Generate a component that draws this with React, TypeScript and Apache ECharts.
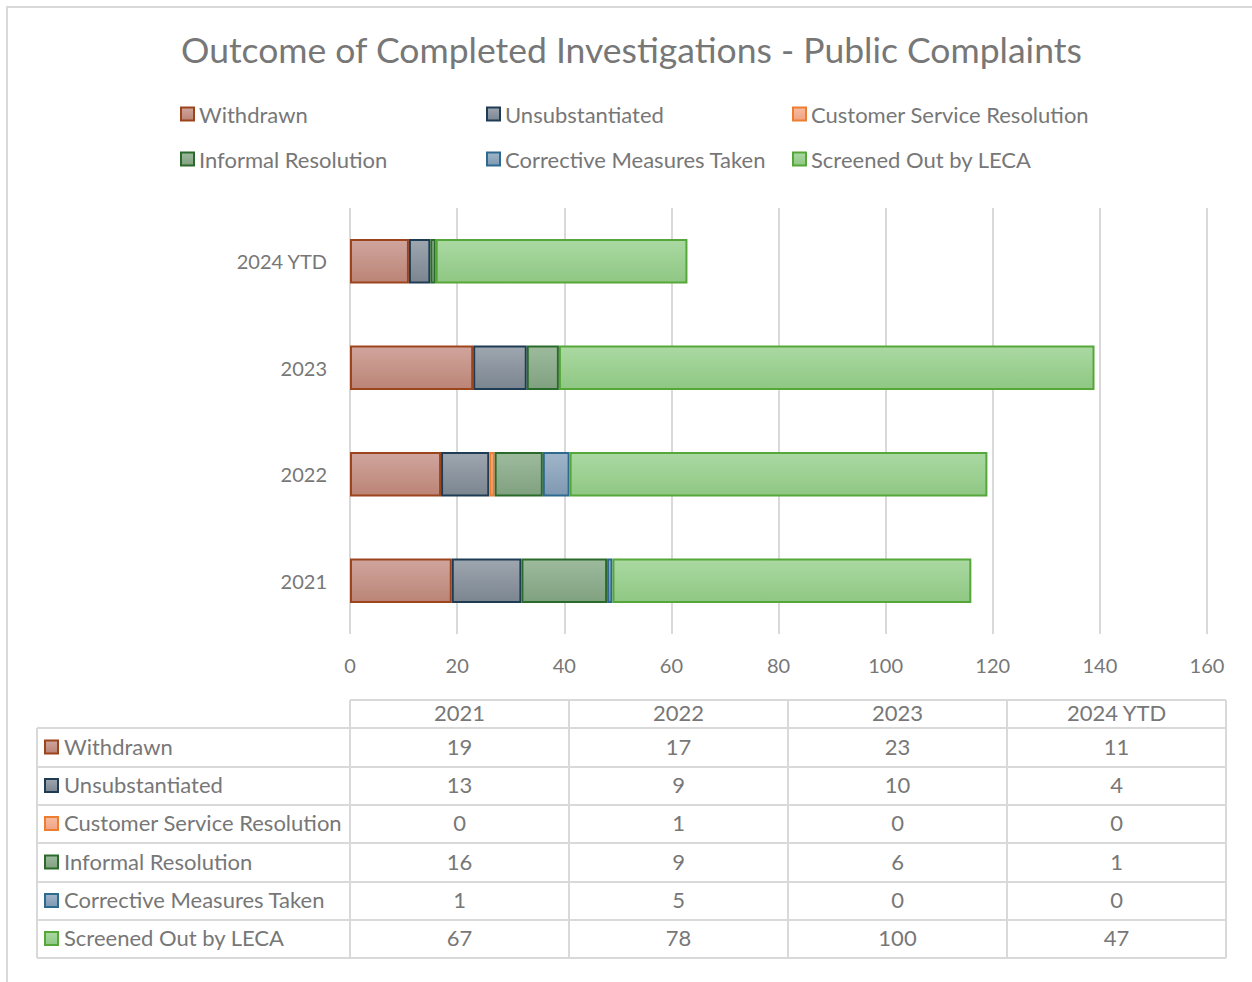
import React, { useEffect, useRef } from "react";
import * as echarts from "echarts";

const categories = ["2021", "2022", "2023", "2024 YTD"];
const seriesNames = [
  "Withdrawn",
  "Unsubstantiated",
  "Customer Service Resolution",
  "Informal Resolution",
  "Corrective Measures Taken",
  "Screened Out by LECA",
];
const withdrawn = [19, 17, 23, 11];
const unsubstantiated = [13, 9, 10, 4];
const customerService = [0, 1, 0, 0];
const informal = [16, 9, 6, 1];
const corrective = [1, 5, 0, 0];
const screened = [67, 78, 100, 47];
const seriesValues = [withdrawn, unsubstantiated, customerService, informal, corrective, screened];
const xTicks = [0, 20, 40, 60, 80, 100, 120, 140, 160];

const FONT = "Lato, 'Open Sans', sans-serif";
const TXT = "#777777";
const GRID = "#d9d9d9";

const palette = [
  { top: "#d0a59d", bottom: "#bb8476", border: "#9c451c" },
  { top: "#9ea6af", bottom: "#7b8590", border: "#1e3d55" },
  { top: "#f7bca1", bottom: "#f2a283", border: "#ed7d31" },
  { top: "#9dba9d", bottom: "#80a180", border: "#2a6a2a" },
  { top: "#a0b5c8", bottom: "#7e99b2", border: "#2c6a90" },
  { top: "#aad9a2", bottom: "#8fc783", border: "#56a73a" },
];

const grad = (p: { top: string; bottom: string }) =>
  new echarts.graphic.LinearGradient(0, 0, 0, 1, [
    { offset: 0, color: p.top },
    { offset: 1, color: p.bottom },
  ]);

export default function App() {
  const ref = useRef<HTMLDivElement>(null);
  useEffect(() => {
    if (!ref.current) return;
    const chart = echarts.init(ref.current, null, { renderer: "svg" });

    const series = seriesNames.map((name, i) => ({
      name,
      type: "bar",
      stack: "total",
      barCategoryGap: "58%",
      data: seriesValues[i].map((v) => (v === 0 ? null : v)),
      itemStyle: { color: grad(palette[i]), borderColor: palette[i].border, borderWidth: 2 },
      emphasis: { disabled: true },
    }));

    const legendCols = [
      [seriesNames[0], seriesNames[3]],
      [seriesNames[1], seriesNames[4]],
      [seriesNames[2], seriesNames[5]],
    ];
    const legendLefts = [175, 481, 787];
    const legends = legendCols.map((d, i) => ({
      data: d,
      orient: "vertical",
      left: legendLefts[i],
      top: 98,
      icon: "rect",
      itemWidth: 13,
      itemHeight: 13,
      itemGap: 23,
      selectedMode: false,
      textStyle: { color: TXT, fontSize: 22, fontFamily: FONT, lineHeight: 22, height: 22 },
    }));

    // Data table
    const tLeft = 37;
    const tLabelRight = 350;
    const colW = 219;
    const headTop = 700;
    const rowTops = [728, 767, 805, 843, 882, 920, 958];
    const tRight = tLabelRight + colW * categories.length;
    const TF = 22;
    const g: any[] = [];
    const line = (x1: number, y1: number, x2: number, y2: number) =>
      g.push({ type: "line", shape: { x1, y1, x2, y2 }, style: { stroke: GRID, lineWidth: 2 }, silent: true });
    // outer frame
    g.push({ type: "rect", shape: { x: 7, y: 7, width: 1400, height: 1200 }, style: { fill: "none", stroke: GRID, lineWidth: 2 }, silent: true });
    // header
    line(tLabelRight, headTop, tRight, headTop);
    for (let c = 0; c <= categories.length; c++) {
      const x = tLabelRight + c * colW;
      line(x, headTop, x, rowTops[rowTops.length - 1]);
    }
    line(tLeft, rowTops[0], tLeft, rowTops[rowTops.length - 1]);
    rowTops.forEach((y) => line(tLeft, y, tRight, y));
    categories.forEach((cat, c) => {
      g.push({
        type: "text",
        x: tLabelRight + c * colW + colW / 2,
        y: (headTop + rowTops[0]) / 2 - 2,
        style: { text: cat, fill: TXT, fontSize: TF, fontFamily: FONT, align: "center", verticalAlign: "middle" },
        silent: true,
      });
    });
    seriesNames.forEach((name, r) => {
      const cy = (rowTops[r] + rowTops[r + 1]) / 2 - 1.5;
      g.push({
        type: "rect",
        shape: { x: 45, y: cy - 5.5, width: 13, height: 13 },
        style: { fill: grad(palette[r]), stroke: palette[r].border, lineWidth: 2 },
        silent: true,
      });
      g.push({
        type: "text",
        x: 64,
        y: cy,
        style: { text: name, fill: TXT, fontSize: TF, fontFamily: FONT, align: "left", verticalAlign: "middle" },
        silent: true,
      });
      seriesValues[r].forEach((v, c) => {
        g.push({
          type: "text",
          x: tLabelRight + c * colW + colW / 2,
          y: cy,
          style: { text: String(v), fill: TXT, fontSize: TF, fontFamily: FONT, align: "center", verticalAlign: "middle" },
          silent: true,
        });
      });
    });

    chart.setOption({
      animation: false,
      backgroundColor: "#ffffff",
      title: {
        text: "Outcome of Completed Investigations - Public Complaints",
        left: 176,
        top: 26,
        textStyle: { color: TXT, fontSize: 35.5, fontWeight: "normal", fontFamily: FONT },
      },
      legend: legends,
      grid: { left: 350, right: 45, top: 208, height: 426, containLabel: false },
      xAxis: {
        type: "value",
        min: xTicks[0],
        max: xTicks[xTicks.length - 1],
        interval: xTicks[1] - xTicks[0],
        axisLine: { show: false },
        axisTick: { show: false },
        splitLine: { show: true, lineStyle: { color: GRID, width: 2 } },
        axisLabel: { color: TXT, fontSize: 20, fontFamily: FONT, margin: 21 },
      },
      yAxis: {
        type: "category",
        data: categories,
        axisLine: { show: false },
        axisTick: { show: false },
        axisLabel: { color: TXT, fontSize: 20, fontFamily: FONT, margin: 23 },
      },
      series,
      graphic: g,
    });
    return () => chart.dispose();
  }, []);
  return (
    <div
      ref={ref}
      style={{ position: "fixed", left: 0, top: 0, width: 1252, height: 982, background: "#fff" }}
    />
  );
}
